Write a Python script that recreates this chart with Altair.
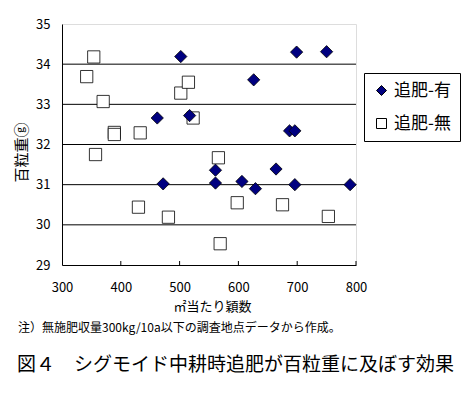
import altair as alt
import pandas as pd

FONT = "Noto Sans CJK JP"

# 追肥-無 (squares)
nashi_x = [354, 342, 370, 389, 389, 433, 502, 515, 523, 357, 430, 481, 566, 569, 598, 675, 753]
nashi_y = [34.18, 33.69, 33.07, 32.30, 32.25, 32.29, 33.28, 33.55, 32.66, 31.75, 30.44, 30.19,
           31.67, 29.53, 30.55, 30.50, 30.21]
# 追肥-有 (diamonds)
ari_x = [502, 462, 517, 699, 750, 626, 687, 696, 472, 561, 561, 606, 629, 664, 696, 790]
ari_y = [34.19, 32.66, 32.72, 34.30, 34.31, 33.61, 32.34, 32.34, 31.02, 31.36, 31.04, 31.08,
         30.90, 31.39, 31.00, 31.00]

series = ["追肥-有", "追肥-無"]
grid_vals = [30, 31, 32, 33, 34]
x_ticks = [400, 500, 600, 700, 800]

df = pd.DataFrame(
    {"x": nashi_x + ari_x,
     "y": nashi_y + ari_y,
     "s": [series[1]] * len(nashi_x) + [series[0]] * len(ari_x),
     "o": list(range(len(nashi_x) + len(ari_x)))}
)

xs = alt.Scale(domain=[300, 800], nice=False)
ys = alt.Scale(domain=[29, 35], nice=False)

grid = alt.Chart(pd.DataFrame({"g": grid_vals})).mark_rule(color="black", strokeWidth=1).encode(
    y=alt.Y("g:Q", scale=ys)
)

xt = alt.Chart(pd.DataFrame({"t": x_ticks})).mark_rule(color="black", strokeWidth=1).encode(
    x=alt.X("t:Q", scale=xs),
    y=alt.value(241),
    y2=alt.value(237),
)

pts = alt.Chart(df).mark_point(filled=True, stroke="black", strokeWidth=0.8, opacity=1, size=150).encode(
    x=alt.X("x:Q", scale=xs,
            axis=alt.Axis(values=[300, 400, 500, 600, 700, 800], title="㎡当たり穎数", grid=False,
                          ticks=False, labelPadding=16, titlePadding=6, labelFlush=False,
                          domainColor="black", labelFont=FONT, labelFontSize=13,
                          labelColor="black", titleFont=FONT, titleFontSize=13,
                          titleFontWeight="normal", titleColor="black", titleX=150)),
    y=alt.Y("y:Q", scale=ys,
            axis=alt.Axis(values=[29, 30, 31, 32, 33, 34, 35], title="百粒重ⓖ", grid=False,
                          ticks=False, labelPadding=12, labelFlush=False, domainColor="black",
                          labelFont=FONT, labelFontSize=13, labelColor="black",
                          titleFont=FONT, titleFontSize=15, titleFontWeight="normal",
                          titleColor="black", titlePadding=6, titleY=128)),
    fill=alt.Fill("s:N", scale=alt.Scale(domain=series, range=["#000080", "white"]),
                  legend=alt.Legend(title=None, orient="none", legendX=302, legendY=49,
                                    strokeColor="black", fillColor="white", padding=9,
                                    labelFont=FONT, labelFontSize=17, labelColor="black",
                                    symbolSize=100, symbolStrokeColor="black",
                                    symbolStrokeWidth=1, rowPadding=15, labelOffset=4,
                                    labelLimit=200)),
    shape=alt.Shape("s:N", scale=alt.Scale(domain=series, range=["diamond", "square"]),
                    legend=alt.Legend(title=None, orient="none", legendX=302, legendY=49)),
    order=alt.Order("o:Q"),
)

note = alt.Chart(pd.DataFrame({"t": ["注）無施肥収量300kg/10a以下の調査地点データから作成。"]})).mark_text(
    align="left", baseline="middle", font=FONT, fontSize=12, color="black"
).encode(text="t:N", x=alt.value(-44), y=alt.value(304))

ttl = alt.Chart(pd.DataFrame({"t": ["図４　シグモイド中耕時追肥が百粒重に及ぼす効果"]})).mark_text(
    align="left", baseline="middle", font=FONT, fontSize=19, color="black"
).encode(text="t:N", x=alt.value(-45), y=alt.value(341))

chart = alt.layer(grid, xt, pts, note, ttl).properties(
    width=294, height=241,
    padding={"left": 54, "top": 16, "right": 108, "bottom": 121},
    autosize=alt.AutoSizeParams(type="none"),
).configure_view(stroke="#888888", strokeWidth=1).configure(background="white")

chart.save("out.html", embed_options={"renderer": "svg", "actions": False})
